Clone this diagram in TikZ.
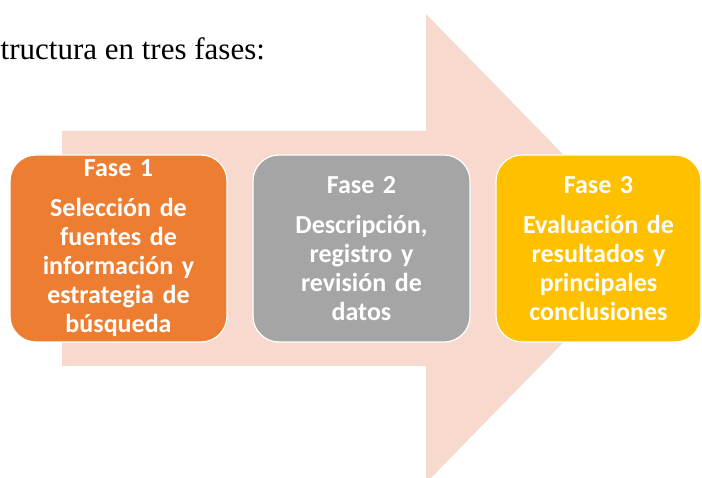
\documentclass[tikz,border=0pt]{standalone}
\usepackage{fontspec}
\newfontfamily\phasefont{Carlito}
\newfontfamily\titlefont{Liberation Serif}
\definecolor{arrowpink}{HTML}{F8D9CE}
\definecolor{phaseorange}{HTML}{ED7D31}
\definecolor{phasegray}{HTML}{A5A5A5}
\definecolor{phaseyellow}{HTML}{FFC000}

\begin{document}
\begin{tikzpicture}[x=1pt, y=-1pt]
    \tikzset{PhaseStyle/.style = {draw=white, line width=1.2pt, rounded corners=26pt,
        minimum height=187pt, inner sep=0pt, text=white, align=center,
        font=\phasefont\bfseries\fontsize{26}{29}\selectfont}}
    \clip (0,0) rectangle (702,478);

    % Title
    \node[anchor=base west, inner sep=0pt, font=\titlefont\fontsize{31}{36}\selectfont]
        (title) at (0.5,60) {tructura en tres fases:};

    % Arrow
    \fill[arrowpink] (62,131) -- (426,131) -- (426,14) -- (655,248.5)
        -- (426,483) -- (426,366) -- (62,366) -- cycle;

    % Phases
    \node[PhaseStyle, fill=phaseorange, minimum width=217pt, text width=205pt]
        (fase1) at (118.5,248.5) {Fase 1\\[11pt]Selección de\\fuentes de\\información y\\estrategia de\\búsqueda};
    \node[PhaseStyle, fill=phasegray, minimum width=217pt, text width=205pt]
        (fase2) at (361.5,248.5) {Fase 2\\[11pt]Descripción,\\registro y\\revisión de\\datos};
    \node[PhaseStyle, fill=phaseyellow, minimum width=205pt, text width=195pt]
        (fase3) at (598.5,248.5) {Fase 3\\[11pt]Evaluación de\\resultados y\\principales\\conclusiones};
\end{tikzpicture}
\end{document}
